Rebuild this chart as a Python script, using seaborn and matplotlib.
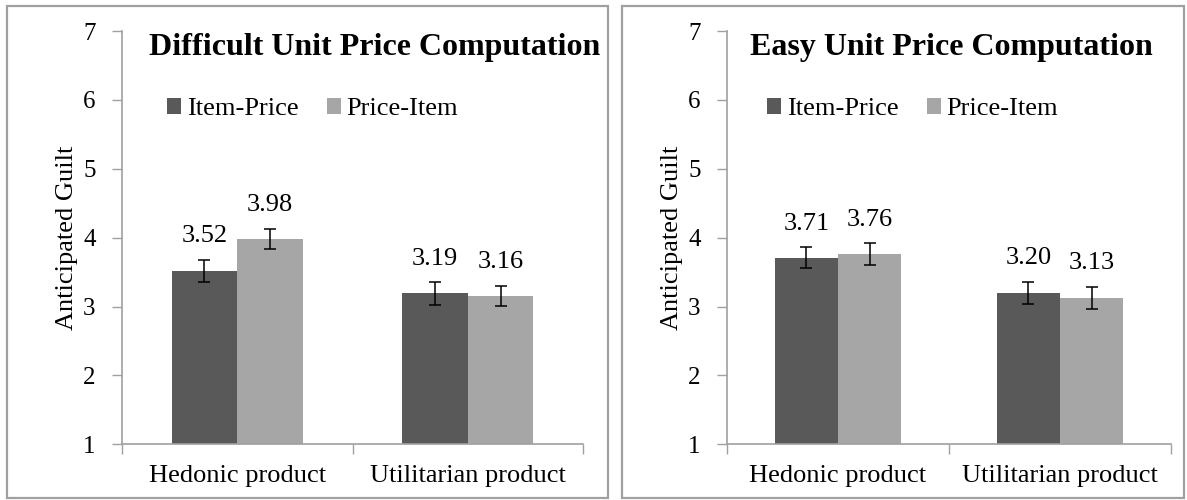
import matplotlib
matplotlib.use("Agg")
import matplotlib.pyplot as plt
from matplotlib.patches import Rectangle
import seaborn as sns
import pandas as pd

# ---- data ----
categories = ["Hedonic product", "Utilitarian product"]
orders = ["Item-Price", "Price-Item"]
panel_titles = ["Difficult Unit Price Computation", "Easy Unit Price Computation"]

difficult_item_price = [3.52, 3.19]
difficult_price_item = [3.98, 3.16]
difficult_item_price_err = [0.16, 0.165]
difficult_price_item_err = [0.15, 0.145]

easy_item_price = [3.71, 3.20]
easy_price_item = [3.76, 3.13]
easy_item_price_err = [0.155, 0.16]
easy_price_item_err = [0.16, 0.16]

y_ticks = [1, 2, 3, 4, 5, 6, 7]

colors = ["#595959", "#A6A6A6"]
axis_gray = "#A0A0A0"

sns.set_style("white")
plt.rcParams["font.family"] = ["Liberation Serif", "DejaVu Serif"]
plt.rcParams["text.color"] = "black"
plt.rcParams["axes.labelcolor"] = "black"

W, H = 1187, 500
fig = plt.figure(figsize=(W / 100, H / 100), dpi=100)


def px_axes(x0, x1, ytop, ybot):
    return fig.add_axes([x0 / W, (H - ybot) / H, (x1 - x0) / W, (ybot - ytop) / H])


panels = [
    dict(ax=px_axes(122, 583, 31, 444.3), title=panel_titles[0],
         vals=[difficult_item_price, difficult_price_item],
         errs=[difficult_item_price_err, difficult_price_item_err],
         title_x=27 / 461, leg_x=(167 - 122) / 461),
    dict(ax=px_axes(727, 1171, 31, 444.3), title=panel_titles[1],
         vals=[easy_item_price, easy_price_item],
         errs=[easy_item_price_err, easy_price_item_err],
         title_x=23 / 444, leg_x=(767 - 727) / 444),
]

# panel borders
for (x0, x1) in [(7, 608), (622, 1184)]:
    fig.patches.append(Rectangle((x0 / W, (H - 498) / H), (x1 - x0) / W, (498 - 6) / H,
                                 transform=fig.transFigure, fill=False,
                                 edgecolor=axis_gray, linewidth=1.6, zorder=0))

for p in panels:
    ax = p["ax"]
    df = pd.DataFrame({
        "Product": categories * 2,
        "Order": [orders[0]] * 2 + [orders[1]] * 2,
        "Guilt": list(p["vals"][0]) + list(p["vals"][1]),
    })
    sns.barplot(data=df, x="Product", y="Guilt", hue="Order", order=categories,
                hue_order=orders, palette=colors, width=0.57, errorbar=None,
                saturation=1, ax=ax, linewidth=0)

    for cont, vals, errs in zip(ax.containers, p["vals"], p["errs"]):
        for bar, v, e in zip(cont, vals, errs):
            cx = bar.get_x() + bar.get_width() / 2
            ax.errorbar(cx, v, yerr=e, fmt="none", ecolor="black",
                        elinewidth=1.1, capsize=4.3, capthick=1.1, zorder=5)
            ax.annotate(f"{v:.2f}", xy=(cx, v + e), xytext=(0, 12.5),
                        textcoords="offset points", ha="center", va="baseline",
                        fontsize=19, color="black")

    ax.set_ylim(1, 7)
    ax.set_xlim(-0.5, 1.5)
    ax.set_yticks(y_ticks)
    ax.set_yticklabels([str(t) for t in y_ticks])
    ax.set_xticks([-0.5, 0.5, 1.5], minor=True)
    ax.tick_params(axis="x", which="major", length=0, labelsize=19, pad=15,
                   labelcolor="black")
    ax.tick_params(axis="x", which="minor", length=7, width=1, color=axis_gray,
                   direction="out", bottom=True)
    ax.tick_params(axis="y", which="major", length=7, width=1, color=axis_gray,
                   direction="out", left=True, labelsize=18, pad=12,
                   labelcolor="black")
    ax.set_xlabel("")
    ax.set_ylabel("Anticipated Guilt", fontsize=19, labelpad=4, color="black")
    for s in ["top", "right"]:
        ax.spines[s].set_visible(False)
    for s in ["left", "bottom"]:
        ax.spines[s].set_color(axis_gray)
        ax.spines[s].set_linewidth(1.2)

    ax.text(p["title_x"], 0.942, p["title"], transform=ax.transAxes,
            ha="left", va="baseline", fontsize=23, fontweight="bold", color="black")

    handles, labels = ax.get_legend_handles_labels()
    if ax.get_legend() is not None:
        ax.get_legend().remove()
    leg = ax.legend(handles, labels, loc="upper left", bbox_to_anchor=(p["leg_x"], 0.838),
                    ncol=2, frameon=False, fontsize=19, handlelength=0.53,
                    handleheight=0.53, handletextpad=0.23, columnspacing=1.06,
                    borderpad=0, borderaxespad=0)
    for t in leg.get_texts():
        t.set_color("black")

fig.savefig("out.png", dpi=100)
